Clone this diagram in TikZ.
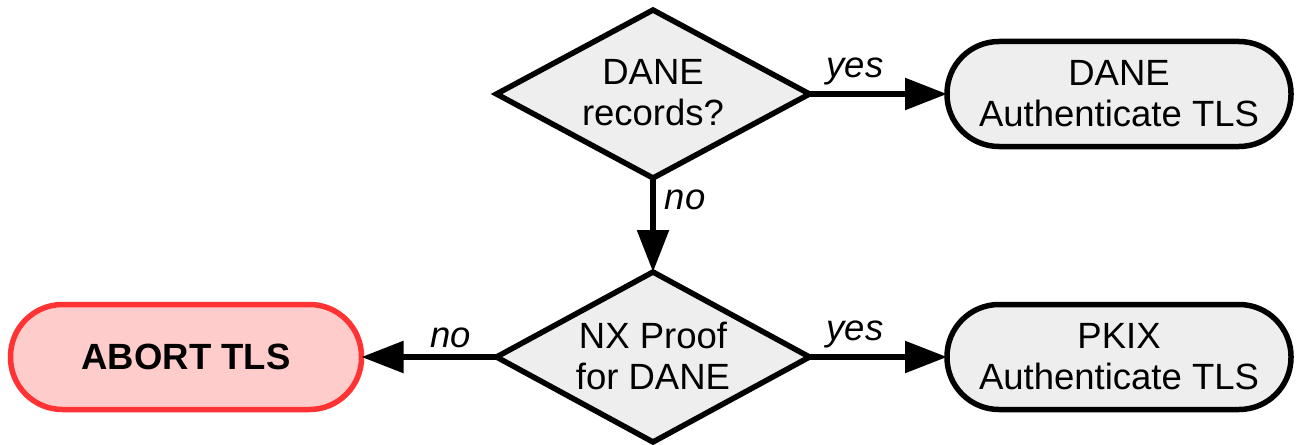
\documentclass[tikz,border=0pt]{standalone}
\usepackage{fontspec}
\setmainfont{Liberation Sans}
\usetikzlibrary{shapes.geometric,arrows.meta}
\definecolor{boxgray}{HTML}{EEEEEE}
\definecolor{abortfill}{HTML}{FFCCCC}
\definecolor{abortline}{HTML}{FF3333}
\begin{document}
\begin{tikzpicture}[x=1pt,y=-1pt,
  every node/.style={font=\fontsize{36.5}{41}\selectfont},
  decision/.style={diamond, draw=black, line width=5.5pt, fill=boxgray, inner sep=0pt, outer sep=0pt,
    minimum width=313pt, minimum height=168pt},
  dtext/.style={align=center, inner sep=0pt},
  terminal/.style={rectangle, rounded corners=52pt, draw=black, line width=5.5pt, fill=boxgray,
    minimum width=344pt, minimum height=105pt, align=center, inner sep=0pt, outer sep=0pt},
  abortbox/.style={terminal, draw=abortline, fill=abortfill, minimum width=351pt},
  flow/.style={line width=5.5pt, -{Triangle[length=42pt,width=31pt]}},
  lbl/.style={font=\fontsize{36.5}{41}\selectfont\itshape, inner sep=0pt}]
\useasboundingbox (0,0) rectangle (1297,444);
\node[decision] (d1) at (653,94) {};
\node[dtext] (t1) at ([yshift=1pt]d1.center) {DANE\\records?};
\node[decision, minimum height=170pt] (d2) at (653,357) {};
\node[dtext] (t2) at ([yshift=1pt]d2.center) {NX Proof\\for DANE};
\node[terminal] (b1) at (1119,94) {DANE\\Authenticate TLS};
\node[terminal] (b2) at (1119,357) {PKIX\\Authenticate TLS};
\node[abortbox] (ab) at (186,357) {\textbf{ABORT TLS}};
\draw[flow] (d1.east) -- (b1.west) node[lbl, pos=0.33, above=6pt] {yes};
\draw[flow] (d2.east) -- (b2.west) node[lbl, pos=0.33, above=6pt] {yes};
\draw[flow] (d1.south) -- (d2.north) node[lbl, pos=0.23, right=9pt] {no};
\draw[flow] (d2.west) -- (ab.east) node[lbl, pos=0.34, above=6pt] {no};
\end{tikzpicture}
\end{document}
